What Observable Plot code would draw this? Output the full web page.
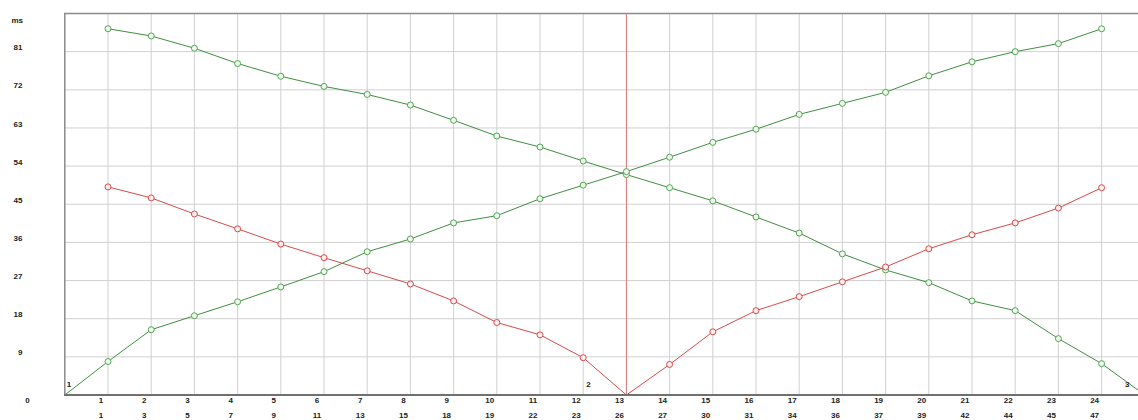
<!DOCTYPE html>
<html>
<head>
<meta charset="utf-8">
<script src="https://cdn.jsdelivr.net/npm/d3@7"></script>
<script src="https://cdn.jsdelivr.net/npm/@observablehq/plot@0.6"></script>
<style>
  html, body { margin: 0; padding: 0; background: #fff; }
  #chart svg { display: block; }
</style>
</head>
<body>
<div id="chart"></div>
<script>
// ---- data ----
const xIndex = [1,2,3,4,5,6,7,8,9,10,11,12,13,14,15,16,17,18,19,20,21,22,23,24];
const xLabels2 = [1,3,5,7,9,11,13,15,18,19,22,23,26,27,30,31,34,36,37,39,42,44,45,47];
const yTicks = [9,18,27,36,45,54,63,72,81];

// descending green: x = 1..25
const descX = [1,2,3,4,5,6,7,8,9,10,11,12,13,14,15,16,17,18,19,20,21,22,23,24,25];
const descY = [86.4,84.7,81.8,78.2,75.2,72.8,70.9,68.4,64.8,61.1,58.5,55.2,52.0,48.9,45.8,42.0,38.2,33.3,29.5,26.5,22.2,19.9,13.3,7.4,0];

// ascending green: x = 0..24
const ascX = [0,1,2,3,4,5,6,7,8,9,10,11,12,13,14,15,16,17,18,19,20,21,22,23,24];
const ascY = [0,7.9,15.4,18.7,22.0,25.5,29.1,33.8,36.8,40.6,42.3,46.3,49.5,52.7,56.1,59.6,62.7,66.2,68.8,71.4,75.3,78.6,81.0,82.9,86.4];

// red V: x = 1..24
const redX = xIndex;
const redY = [49.1,46.5,42.7,39.2,35.6,32.4,29.3,26.2,22.2,17.1,14.2,8.8,0,7.2,14.9,19.9,23.2,26.7,30.2,34.5,37.8,40.6,44.1,48.9];

const cursorX = [13];
const yMax = 90;

// ---- tables ----
const desc = descX.map((x, i) => ({x, y: descY[i]}));
const asc = ascX.map((x, i) => ({x, y: ascY[i]}));
const red = redX.map((x, i) => ({x, y: redY[i]}));
const descPts = desc.filter(d => xIndex.includes(d.x));
const ascPts = asc.filter(d => xIndex.includes(d.x));
const redPts = red.filter(d => d.y > 0);
const row1 = xIndex.map((x, i) => ({x, label: String(x)}));
const row2 = xIndex.map((x, i) => ({x, label: String(xLabels2[i])}));

const GREEN_LINE = "#3f8f3f";
const GREEN_PT = "#55a555";
const RED = "#d94a4a";
const font = "Liberation Sans, Arial, sans-serif";

const chart = Plot.plot({
  width: 1138,
  height: 420,
  marginLeft: 64,
  marginRight: 0,
  marginTop: 13,
  marginBottom: 25.5,
  style: {fontFamily: font, fontSize: "8px", fontWeight: "bold", background: "#fff"},
  x: {domain: [0, 25], range: [64.3, 1144.3], axis: null},
  y: {domain: [0, yMax], axis: null},
  marks: [
    // grid
    Plot.ruleX(xIndex, {stroke: "#d0d0d0", strokeWidth: 1}),
    Plot.ruleY(yTicks, {stroke: "#d0d0d0", strokeWidth: 1}),
    // frame
    Plot.ruleY([yMax], {stroke: "#8a8a8a", strokeWidth: 1.5}),
    Plot.ruleX([0], {stroke: "#8a8a8a", strokeWidth: 1.5}),
    // cursor
    Plot.ruleX(cursorX, {stroke: "#e07a7a", strokeWidth: 1}),
    // series
    Plot.line(desc, {x: "x", y: "y", stroke: GREEN_LINE, strokeWidth: 1}),
    Plot.line(asc, {x: "x", y: "y", stroke: GREEN_LINE, strokeWidth: 1}),
    Plot.line(red, {x: "x", y: "y", stroke: RED, strokeWidth: 1}),
    Plot.dot(descPts, {x: "x", y: "y", r: 3, stroke: GREEN_PT, fill: "#eef7ee", strokeWidth: 1}),
    Plot.dot(ascPts, {x: "x", y: "y", r: 3, stroke: GREEN_PT, fill: "#eef7ee", strokeWidth: 1}),
    Plot.dot(redPts, {x: "x", y: "y", r: 3, stroke: RED, fill: "#fbeeee", strokeWidth: 1}),
    // bottom axis line
    Plot.ruleY([0], {stroke: "#707070", strokeWidth: 2}),
    // y tick labels
    Plot.text(yTicks, {y: d => d, text: d => String(d), frameAnchor: "left", textAnchor: "end", dx: -42, dy: -4, fill: "#222"}),
    Plot.text(["ms"], {text: d => d, frameAnchor: "top-left", textAnchor: "start", dx: -53, dy: 4, fill: "#222"}),
    Plot.text(["0"], {text: d => d, frameAnchor: "bottom-left", textAnchor: "middle", dx: -37, dy: 8, fill: "#222"}),
    // x tick labels
    Plot.text(row1, {x: "x", text: "label", frameAnchor: "bottom", dx: -7, dy: 8, fill: "#222"}),
    Plot.text(row2, {x: "x", text: "label", frameAnchor: "bottom", dx: -7, dy: 22.5, fill: "#222"}),
    // segment annotations
    Plot.text(["1"], {x: [0], y: [0], text: d => d, textAnchor: "start", dx: 2, dy: -11, fill: "#222"}),
    Plot.text(["2"], {x: [13], y: [0], text: d => d, dx: -38, dy: -11, fill: "#222"}),
    Plot.text(["3"], {x: [25], y: [0], text: d => d, dx: -17.5, dy: -11, fill: "#222"})
  ]
});
document.getElementById("chart").append(chart);
</script>
</body>
</html>
